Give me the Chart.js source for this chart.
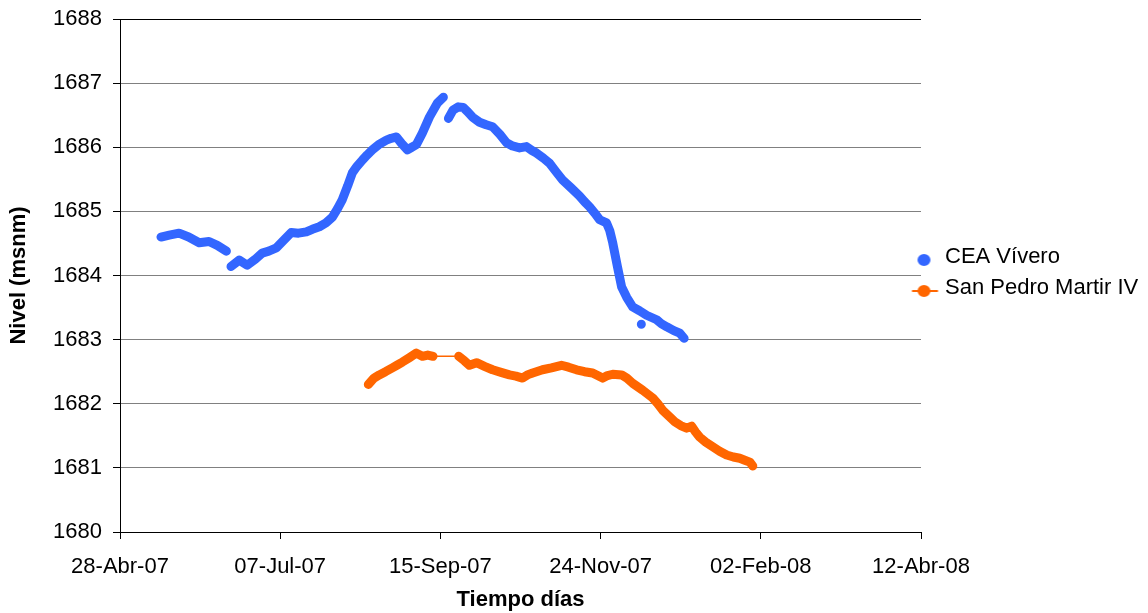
<!DOCTYPE html>
<html>
<head>
<meta charset="utf-8">
<script src="https://cdn.jsdelivr.net/npm/chart.js@4.4.0/dist/chart.umd.min.js"></script>
<style>
  body { margin: 0; background: #fff; }
  canvas { display: block; }
</style>
</head>
<body>
<canvas id="nivelChart" width="1148" height="613"></canvas>
<script>
// dias contados desde el 28-Abr-07
const xTickLabels = ['28-Abr-07', '07-Jul-07', '15-Sep-07', '24-Nov-07', '02-Feb-08', '12-Abr-08'];

// CEA Vívero (null = corte de la serie)
const blueDays = [
    17.9, 21.5, 25.8, 30, 34.6, 38.9, 42.5, 46.5,
    46.5,
    48.5, 52.1, 55.6, 59, 62.1, 65, 68.3, 71.8, 74.8, 78, 81.4, 84, 87.1, 90, 92.8,
    95, 97.1, 99.5, 101.5, 103.5, 105.9, 108, 110.3, 113, 116.4, 118.5, 120.8, 123,
    125.6, 127.5, 129.5, 132.1, 135.2, 138.7, 141.3,
    141.3,
    143.5, 145.5, 147.8, 150, 152, 154, 157.1, 160, 162.8, 166, 168.9, 171.5, 174.6,
    177.6, 180, 182, 185, 187.7, 190.5, 193.4, 197, 200.8, 203, 205.2, 207.5, 209.6,
    212.6, 214, 215.3, 217.4, 219.2, 221.4, 224, 227, 230.1, 234.5, 236.5, 238.9,
    242, 244.6, 246.5,
    246.5, 227.8
];
const blueLevels = [
    1684.60, 1684.63, 1684.66, 1684.60, 1684.51, 1684.53, 1684.47, 1684.38,
    null,
    1684.14, 1684.24, 1684.16, 1684.25, 1684.35, 1684.38, 1684.43, 1684.56, 1684.67, 1684.66, 1684.68, 1684.72, 1684.76, 1684.82, 1684.91,
    1685.04, 1685.18, 1685.40, 1685.60, 1685.70, 1685.80, 1685.88, 1685.96, 1686.04, 1686.11, 1686.14, 1686.16, 1686.06,
    1685.96, 1686.00, 1686.04, 1686.22, 1686.47, 1686.69, 1686.78,
    null,
    1686.45, 1686.58, 1686.63, 1686.62, 1686.55, 1686.47, 1686.39, 1686.35, 1686.32, 1686.20, 1686.07, 1686.02, 1685.99,
    1686.01, 1685.95, 1685.91, 1685.83, 1685.75, 1685.62, 1685.49, 1685.37, 1685.24, 1685.15, 1685.07, 1684.97, 1684.87,
    1684.82, 1684.70, 1684.51, 1684.13, 1683.82, 1683.66, 1683.51, 1683.45, 1683.38, 1683.31, 1683.25, 1683.20,
    1683.14, 1683.10, 1683.02,
    null, 1683.24
];

// San Pedro Martir IV
const orangeDays = [
    108.5, 111, 113.3, 116, 119, 121, 123.4, 126.5, 129.5, 132.1, 134.5, 136.8,
    148, 150.5, 152.7, 155.8, 159.5, 162.8, 166.5, 170.2, 173, 175.9, 178, 180.3,
    184.6, 188.5, 192.9, 196, 199.5, 203, 206.5, 210.9, 213, 215.3, 219.2, 221.5,
    224, 228.4, 232.8, 235, 237.1, 240, 242.4, 245, 247.6, 249.8, 251.5, 253.3,
    256, 259, 262, 265.1, 268, 270.8, 273, 275.2, 276.5
];
const orangeLevels = [
    1682.30, 1682.40, 1682.45, 1682.50, 1682.56, 1682.60, 1682.65, 1682.72, 1682.79, 1682.74, 1682.76, 1682.74,
    1682.74, 1682.67, 1682.60, 1682.64, 1682.58, 1682.53, 1682.49, 1682.45, 1682.43, 1682.40, 1682.45, 1682.48,
    1682.53, 1682.56, 1682.60, 1682.57, 1682.53, 1682.50, 1682.48, 1682.40, 1682.44, 1682.46, 1682.45, 1682.40,
    1682.32, 1682.21, 1682.09, 1682.00, 1681.90, 1681.80, 1681.72, 1681.66, 1681.62, 1681.65, 1681.56, 1681.48,
    1681.40, 1681.33, 1681.26, 1681.20, 1681.17, 1681.15, 1681.12, 1681.09, 1681.03
];

const AZUL = '#3366FF';
const NARANJA = '#FF6600';
const FUENTE = "'Liberation Sans', Arial, sans-serif";

function toPoints(days, levels) {
    return days.map((d, i) => ({ x: d, y: levels[i] }));
}

// marcadores de la leyenda
function legendMarker(withLine, color) {
    const c = document.createElement('canvas');
    c.width = 44;
    c.height = 20;
    const g = c.getContext('2d');
    if (withLine) {
        g.strokeStyle = color;
        g.lineWidth = 2;
        g.beginPath();
        g.moveTo(9.5, 13);
        g.lineTo(35.5, 13);
        g.stroke();
    }
    g.fillStyle = color;
    g.beginPath();
    g.ellipse(21.5, 13, 6.5, 6, 0, 0, Math.PI * 2);
    g.fill();
    return c;
}

// la leyenda de Excel arranca un poco dentro del area del grafico
const legendShift = {
    id: 'legendShift',
    afterLayout(chart) {
        const lg = chart.legend;
        lg.left = chart.chartArea.right - 15;
        lg.top -= 3;
        lg.bottom -= 3;
    }
};

function setupChart() {
    const ctx = document.getElementById('nivelChart');

    new Chart(ctx, {
        type: 'line',
        data: {
            datasets: [{
                label: 'CEA Vívero',
                data: toPoints(blueDays, blueLevels),
                borderColor: AZUL,
                backgroundColor: AZUL,
                borderWidth: 9,
                borderCapStyle: 'round',
                borderJoinStyle: 'round',
                spanGaps: false,
                pointRadius: function (c) {
                    const d = c.dataset.data;
                    const i = c.dataIndex;
                    const prev = d[i - 1], next = d[i + 1];
                    const alone = (!prev || prev.y === null) && (!next || next.y === null);
                    return alone ? 2.5 : 0;
                },
                pointBorderWidth: 0,
                tension: 0
            }, {
                label: 'San Pedro Martir IV',
                data: toPoints(orangeDays, orangeLevels),
                borderColor: NARANJA,
                backgroundColor: NARANJA,
                borderWidth: 9,
                borderCapStyle: 'round',
                borderJoinStyle: 'round',
                pointRadius: 0,
                tension: 0,
                segment: {
                    // tramo sin datos: sólo la línea fina
                    borderWidth: c => (c.p1.parsed.x - c.p0.parsed.x > 9 ? 1.5 : 9)
                }
            }]
        },
        options: {
            responsive: false,
            animation: false,
            layout: {
                padding: { top: 19, right: 0, bottom: 0, left: 0 }
            },
            plugins: {
                tooltip: { enabled: false },
                legend: {
                    position: 'right',
                    align: 'center',
                    fullSize: false,
                    maxWidth: 227,
                    labels: {
                        usePointStyle: true,
                        pointStyleWidth: 19,
                        padding: 9,
                        color: '#000',
                        font: { family: FUENTE, size: 22 },
                        generateLabels: function () {
                            return [
                                { text: 'CEA Vívero', pointStyle: legendMarker(false, AZUL), fillStyle: AZUL, strokeStyle: 'transparent', lineWidth: 0, hidden: false, datasetIndex: 0 },
                                { text: 'San Pedro Martir IV', pointStyle: legendMarker(true, NARANJA), fillStyle: NARANJA, strokeStyle: 'transparent', lineWidth: 0, hidden: false, datasetIndex: 1 }
                            ];
                        }
                    }
                }
            },
            scales: {
                x: {
                    type: 'linear',
                    min: 0,
                    max: 350,
                    afterFit: s => { s.height = 81; },
                    ticks: {
                        stepSize: 70,
                        padding: 15,
                        color: '#000',
                        font: { family: FUENTE, size: 22 },
                        maxRotation: 0,
                        callback: v => xTickLabels[Math.round(v / 70)]
                    },
                    grid: {
                        drawOnChartArea: false,
                        tickLength: 7,
                        color: '#000',
                        tickColor: '#000'
                    },
                    border: { color: '#000', width: 1 },
                    title: {
                        display: true,
                        text: 'Tiempo días',
                        color: '#000',
                        font: { family: FUENTE, size: 22, weight: 'bold' },
                        padding: { top: 0, bottom: 0 }
                    }
                },
                y: {
                    min: 1680,
                    max: 1688,
                    afterFit: s => {
                        s.width = 120;
                        s.paddingTop = 0;
                        s.paddingBottom = 0;
                    },
                    ticks: {
                        stepSize: 1,
                        padding: 11,
                        color: '#000',
                        font: { family: FUENTE, size: 22 },
                        callback: v => String(v)
                    },
                    grid: {
                        tickLength: 7,
                        color: c => (c.tick && (c.tick.value === 1688 || c.tick.value === 1680) ? '#000' : '#808080'),
                        tickColor: '#000'
                    },
                    border: { color: '#000', width: 1 },
                    title: {
                        display: true,
                        text: 'Nivel (msnm)',
                        color: '#000',
                        font: { family: FUENTE, size: 22, weight: 'bold' },
                        padding: { top: 6, bottom: 0 }
                    }
                }
            }
        },
        plugins: [legendShift]
    });
}

document.addEventListener('DOMContentLoaded', setupChart);
</script>
</body>
</html>
